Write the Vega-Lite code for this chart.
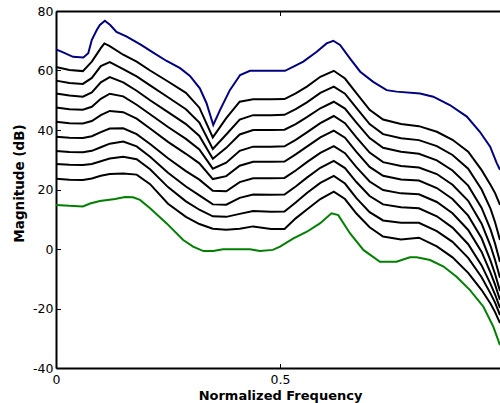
{
"$schema": "https://vega.github.io/schema/vega-lite/v6.json",
"width": 444, "height": 357,
"autosize": {"type": "none"},
"padding": {"left": 56, "top": 11, "right": 0, "bottom": 35},
"background": "white",
"config": {
  "view": {"stroke": null},
  "axis": {"labelFont": "DejaVu Sans", "labelFontSize": 12.5, "labelColor": "black", "titleFont": "DejaVu Sans", "titleFontSize": 13.5, "titleFontWeight": "bold", "titleColor": "black", "domainColor": "black", "domainWidth": 2, "tickColor": "black", "tickWidth": 1, "tickSize": -4.5, "grid": false}
},
"data": {"values": [
{"s":"A","f":0,"m":67.1},{"s":"A","f":0.016,"m":66.1},{"s":"A","f":0.038,"m":64.6},{"s":"A","f":0.061,"m":64.4},{"s":"A","f":0.072,"m":65.8},{"s":"A","f":0.08,"m":70.3},{"s":"A","f":0.091,"m":73.6},{"s":"A","f":0.098,"m":75.3},{"s":"A","f":0.109,"m":76.7},{"s":"A","f":0.121,"m":75.3},{"s":"A","f":0.135,"m":73.0},{"s":"A","f":0.158,"m":71.4},{"s":"A","f":0.19,"m":68.6},{"s":"A","f":0.217,"m":66.0},{"s":"A","f":0.247,"m":63.2},{"s":"A","f":0.277,"m":60.8},{"s":"A","f":0.299,"m":58.2},{"s":"A","f":0.321,"m":54.0},{"s":"A","f":0.336,"m":49.0},{"s":"A","f":0.351,"m":41.7},{"s":"A","f":0.366,"m":46.7},{"s":"A","f":0.388,"m":53.4},{"s":"A","f":0.411,"m":58.5},{"s":"A","f":0.433,"m":59.9},{"s":"A","f":0.511,"m":59.9},{"s":"A","f":0.53,"m":61.3},{"s":"A","f":0.552,"m":63.0},{"s":"A","f":0.582,"m":66.3},{"s":"A","f":0.604,"m":69.1},{"s":"A","f":0.619,"m":70.0},{"s":"A","f":0.634,"m":68.6},{"s":"A","f":0.656,"m":64.1},{"s":"A","f":0.679,"m":59.6},{"s":"A","f":0.708,"m":56.2},{"s":"A","f":0.738,"m":53.4},{"s":"A","f":0.76,"m":52.9},{"s":"A","f":0.8125,"m":52.3},{"s":"A","f":0.842,"m":51.2},{"s":"A","f":0.879,"m":48.4},{"s":"A","f":0.917,"m":44.5},{"s":"A","f":0.946,"m":39.4},{"s":"A","f":0.969,"m":34.4},{"s":"A","f":0.984,"m":28.8},{"s":"A","f":0.991,"m":26.6},

{"s":"B1","f":0,"m":61.2},{"s":"B1","f":0.03,"m":60.2},{"s":"B1","f":0.06,"m":59.8},{"s":"B1","f":0.08,"m":63.0},{"s":"B1","f":0.1,"m":67.5},{"s":"B1","f":0.108,"m":69.1},{"s":"B1","f":0.12,"m":68.2},{"s":"B1","f":0.15,"m":65.3},{"s":"B1","f":0.18,"m":63.0},{"s":"B1","f":0.21,"m":60.0},{"s":"B1","f":0.25,"m":56.3},{"s":"B1","f":0.29,"m":52.5},{"s":"B1","f":0.32,"m":47.5},{"s":"B1","f":0.35,"m":37.5},{"s":"B1","f":0.38,"m":44.0},{"s":"B1","f":0.41,"m":49.5},{"s":"B1","f":0.44,"m":50.3},{"s":"B1","f":0.48,"m":50.3},{"s":"B1","f":0.51,"m":50.4},{"s":"B1","f":0.535,"m":52.3},{"s":"B1","f":0.56,"m":54.6},{"s":"B1","f":0.59,"m":57.9},{"s":"B1","f":0.62,"m":59.9},{"s":"B1","f":0.645,"m":57.3},{"s":"B1","f":0.67,"m":52.5},{"s":"B1","f":0.7,"m":46.8},{"s":"B1","f":0.73,"m":43.5},{"s":"B1","f":0.77,"m":42.0},{"s":"B1","f":0.81,"m":41.3},{"s":"B1","f":0.85,"m":39.4},{"s":"B1","f":0.885,"m":36.7},{"s":"B1","f":0.92,"m":32.7},{"s":"B1","f":0.95,"m":26.5},{"s":"B1","f":0.97,"m":21.5},{"s":"B1","f":0.98,"m":18.8},{"s":"B1","f":0.991,"m":14.8},

{"s":"B2","f":0,"m":56.6},{"s":"B2","f":0.03,"m":55.8},{"s":"B2","f":0.06,"m":55.5},{"s":"B2","f":0.08,"m":57.5},{"s":"B2","f":0.1,"m":61.5},{"s":"B2","f":0.12,"m":62.8},{"s":"B2","f":0.15,"m":60.5},{"s":"B2","f":0.18,"m":58.0},{"s":"B2","f":0.21,"m":55.0},{"s":"B2","f":0.25,"m":51.0},{"s":"B2","f":0.29,"m":47.0},{"s":"B2","f":0.32,"m":42.5},{"s":"B2","f":0.35,"m":33.6},{"s":"B2","f":0.38,"m":38.5},{"s":"B2","f":0.41,"m":43.5},{"s":"B2","f":0.44,"m":45.0},{"s":"B2","f":0.48,"m":45.0},{"s":"B2","f":0.51,"m":45.1},{"s":"B2","f":0.535,"m":47.0},{"s":"B2","f":0.56,"m":49.3},{"s":"B2","f":0.59,"m":52.5},{"s":"B2","f":0.62,"m":54.6},{"s":"B2","f":0.645,"m":52.2},{"s":"B2","f":0.67,"m":47.5},{"s":"B2","f":0.7,"m":42.0},{"s":"B2","f":0.73,"m":38.6},{"s":"B2","f":0.77,"m":37.2},{"s":"B2","f":0.81,"m":36.6},{"s":"B2","f":0.85,"m":34.6},{"s":"B2","f":0.885,"m":31.6},{"s":"B2","f":0.92,"m":27.0},{"s":"B2","f":0.95,"m":20.0},{"s":"B2","f":0.97,"m":13.5},{"s":"B2","f":0.98,"m":9.0},{"s":"B2","f":0.991,"m":3.0},

{"s":"B3","f":0,"m":52.3},{"s":"B3","f":0.03,"m":51.6},{"s":"B3","f":0.06,"m":51.2},{"s":"B3","f":0.08,"m":52.6},{"s":"B3","f":0.1,"m":56.0},{"s":"B3","f":0.12,"m":57.8},{"s":"B3","f":0.15,"m":56.0},{"s":"B3","f":0.18,"m":53.2},{"s":"B3","f":0.21,"m":50.0},{"s":"B3","f":0.25,"m":46.0},{"s":"B3","f":0.29,"m":42.0},{"s":"B3","f":0.32,"m":38.0},{"s":"B3","f":0.35,"m":30.3},{"s":"B3","f":0.38,"m":34.0},{"s":"B3","f":0.41,"m":38.5},{"s":"B3","f":0.44,"m":40.0},{"s":"B3","f":0.48,"m":40.0},{"s":"B3","f":0.51,"m":40.1},{"s":"B3","f":0.535,"m":42.0},{"s":"B3","f":0.56,"m":44.3},{"s":"B3","f":0.59,"m":47.3},{"s":"B3","f":0.62,"m":49.5},{"s":"B3","f":0.645,"m":47.2},{"s":"B3","f":0.67,"m":42.6},{"s":"B3","f":0.7,"m":37.3},{"s":"B3","f":0.73,"m":34.0},{"s":"B3","f":0.77,"m":32.7},{"s":"B3","f":0.81,"m":32.0},{"s":"B3","f":0.85,"m":29.8},{"s":"B3","f":0.885,"m":26.4},{"s":"B3","f":0.92,"m":21.3},{"s":"B3","f":0.95,"m":13.8},{"s":"B3","f":0.97,"m":6.5},{"s":"B3","f":0.98,"m":1.8},{"s":"B3","f":0.991,"m":-4.4},

{"s":"B4","f":0,"m":47.6},{"s":"B4","f":0.03,"m":47.0},{"s":"B4","f":0.06,"m":46.8},{"s":"B4","f":0.08,"m":47.8},{"s":"B4","f":0.1,"m":50.5},{"s":"B4","f":0.12,"m":52.2},{"s":"B4","f":0.15,"m":51.3},{"s":"B4","f":0.18,"m":48.5},{"s":"B4","f":0.21,"m":45.3},{"s":"B4","f":0.25,"m":41.0},{"s":"B4","f":0.29,"m":37.0},{"s":"B4","f":0.32,"m":33.5},{"s":"B4","f":0.35,"m":27.0},{"s":"B4","f":0.38,"m":29.0},{"s":"B4","f":0.41,"m":33.0},{"s":"B4","f":0.44,"m":34.4},{"s":"B4","f":0.48,"m":34.4},{"s":"B4","f":0.51,"m":34.5},{"s":"B4","f":0.535,"m":36.7},{"s":"B4","f":0.56,"m":39.2},{"s":"B4","f":0.59,"m":42.3},{"s":"B4","f":0.62,"m":44.7},{"s":"B4","f":0.645,"m":42.3},{"s":"B4","f":0.67,"m":37.6},{"s":"B4","f":0.7,"m":32.4},{"s":"B4","f":0.73,"m":29.2},{"s":"B4","f":0.77,"m":27.9},{"s":"B4","f":0.81,"m":27.4},{"s":"B4","f":0.85,"m":25.2},{"s":"B4","f":0.885,"m":21.6},{"s":"B4","f":0.92,"m":16.2},{"s":"B4","f":0.95,"m":8.5},{"s":"B4","f":0.97,"m":1.0},{"s":"B4","f":0.98,"m":-3.7},{"s":"B4","f":0.991,"m":-9.7},

{"s":"B5","f":0,"m":42.8},{"s":"B5","f":0.03,"m":42.3},{"s":"B5","f":0.06,"m":42.2},{"s":"B5","f":0.08,"m":43.0},{"s":"B5","f":0.1,"m":45.0},{"s":"B5","f":0.12,"m":46.4},{"s":"B5","f":0.15,"m":46.0},{"s":"B5","f":0.18,"m":43.8},{"s":"B5","f":0.21,"m":40.5},{"s":"B5","f":0.25,"m":36.0},{"s":"B5","f":0.29,"m":32.0},{"s":"B5","f":0.32,"m":28.8},{"s":"B5","f":0.35,"m":23.5},{"s":"B5","f":0.38,"m":24.5},{"s":"B5","f":0.41,"m":28.0},{"s":"B5","f":0.44,"m":29.3},{"s":"B5","f":0.48,"m":29.3},{"s":"B5","f":0.51,"m":29.4},{"s":"B5","f":0.535,"m":31.8},{"s":"B5","f":0.56,"m":34.4},{"s":"B5","f":0.59,"m":37.5},{"s":"B5","f":0.62,"m":39.8},{"s":"B5","f":0.645,"m":37.4},{"s":"B5","f":0.67,"m":32.7},{"s":"B5","f":0.7,"m":27.6},{"s":"B5","f":0.73,"m":24.6},{"s":"B5","f":0.77,"m":23.4},{"s":"B5","f":0.81,"m":23.0},{"s":"B5","f":0.85,"m":20.5},{"s":"B5","f":0.885,"m":16.8},{"s":"B5","f":0.92,"m":11.2},{"s":"B5","f":0.95,"m":3.6},{"s":"B5","f":0.97,"m":-4.0},{"s":"B5","f":0.98,"m":-8.4},{"s":"B5","f":0.991,"m":-14.1},

{"s":"B6","f":0,"m":37.7},{"s":"B6","f":0.03,"m":37.4},{"s":"B6","f":0.06,"m":37.3},{"s":"B6","f":0.08,"m":37.9},{"s":"B6","f":0.1,"m":39.3},{"s":"B6","f":0.12,"m":40.5},{"s":"B6","f":0.15,"m":40.6},{"s":"B6","f":0.18,"m":38.6},{"s":"B6","f":0.21,"m":35.3},{"s":"B6","f":0.25,"m":30.5},{"s":"B6","f":0.29,"m":26.2},{"s":"B6","f":0.32,"m":23.3},{"s":"B6","f":0.35,"m":19.6},{"s":"B6","f":0.38,"m":19.4},{"s":"B6","f":0.41,"m":22.5},{"s":"B6","f":0.44,"m":23.8},{"s":"B6","f":0.48,"m":23.8},{"s":"B6","f":0.51,"m":23.9},{"s":"B6","f":0.535,"m":26.4},{"s":"B6","f":0.56,"m":29.2},{"s":"B6","f":0.59,"m":32.3},{"s":"B6","f":0.62,"m":34.6},{"s":"B6","f":0.645,"m":32.2},{"s":"B6","f":0.67,"m":27.6},{"s":"B6","f":0.7,"m":22.7},{"s":"B6","f":0.73,"m":19.8},{"s":"B6","f":0.77,"m":18.7},{"s":"B6","f":0.81,"m":18.4},{"s":"B6","f":0.85,"m":15.8},{"s":"B6","f":0.885,"m":12.0},{"s":"B6","f":0.92,"m":6.4},{"s":"B6","f":0.95,"m":-1.0},{"s":"B6","f":0.97,"m":-8.0},{"s":"B6","f":0.98,"m":-12.0},{"s":"B6","f":0.991,"m":-17.1},

{"s":"B7","f":0,"m":32.9},{"s":"B7","f":0.03,"m":32.6},{"s":"B7","f":0.06,"m":32.5},{"s":"B7","f":0.08,"m":33.0},{"s":"B7","f":0.1,"m":34.2},{"s":"B7","f":0.12,"m":35.4},{"s":"B7","f":0.15,"m":36.1},{"s":"B7","f":0.18,"m":34.5},{"s":"B7","f":0.21,"m":31.0},{"s":"B7","f":0.25,"m":25.6},{"s":"B7","f":0.29,"m":21.0},{"s":"B7","f":0.32,"m":18.0},{"s":"B7","f":0.35,"m":15.0},{"s":"B7","f":0.38,"m":14.9},{"s":"B7","f":0.41,"m":17.2},{"s":"B7","f":0.44,"m":18.3},{"s":"B7","f":0.48,"m":18.2},{"s":"B7","f":0.51,"m":18.3},{"s":"B7","f":0.535,"m":21.0},{"s":"B7","f":0.56,"m":24.0},{"s":"B7","f":0.59,"m":27.3},{"s":"B7","f":0.62,"m":29.6},{"s":"B7","f":0.645,"m":27.2},{"s":"B7","f":0.67,"m":22.6},{"s":"B7","f":0.7,"m":17.8},{"s":"B7","f":0.73,"m":15.0},{"s":"B7","f":0.77,"m":14.0},{"s":"B7","f":0.81,"m":13.7},{"s":"B7","f":0.85,"m":11.0},{"s":"B7","f":0.885,"m":7.2},{"s":"B7","f":0.92,"m":1.6},{"s":"B7","f":0.95,"m":-5.5},{"s":"B7","f":0.97,"m":-11.8},{"s":"B7","f":0.98,"m":-15.3},{"s":"B7","f":0.991,"m":-19.8},

{"s":"B8","f":0,"m":28.6},{"s":"B8","f":0.03,"m":28.3},{"s":"B8","f":0.06,"m":28.2},{"s":"B8","f":0.08,"m":28.6},{"s":"B8","f":0.1,"m":29.5},{"s":"B8","f":0.12,"m":30.4},{"s":"B8","f":0.15,"m":31.0},{"s":"B8","f":0.18,"m":30.2},{"s":"B8","f":0.21,"m":26.8},{"s":"B8","f":0.25,"m":20.8},{"s":"B8","f":0.29,"m":16.0},{"s":"B8","f":0.32,"m":13.2},{"s":"B8","f":0.35,"m":11.0},{"s":"B8","f":0.38,"m":10.8},{"s":"B8","f":0.41,"m":11.8},{"s":"B8","f":0.44,"m":12.8},{"s":"B8","f":0.48,"m":12.5},{"s":"B8","f":0.51,"m":12.6},{"s":"B8","f":0.535,"m":15.6},{"s":"B8","f":0.56,"m":18.8},{"s":"B8","f":0.59,"m":22.2},{"s":"B8","f":0.62,"m":24.6},{"s":"B8","f":0.645,"m":22.0},{"s":"B8","f":0.67,"m":17.2},{"s":"B8","f":0.7,"m":12.4},{"s":"B8","f":0.73,"m":9.6},{"s":"B8","f":0.77,"m":8.8},{"s":"B8","f":0.81,"m":8.8},{"s":"B8","f":0.85,"m":6.0},{"s":"B8","f":0.885,"m":2.4},{"s":"B8","f":0.92,"m":-3.0},{"s":"B8","f":0.95,"m":-9.5},{"s":"B8","f":0.97,"m":-15.0},{"s":"B8","f":0.98,"m":-18.0},{"s":"B8","f":0.991,"m":-22.2},

{"s":"B9","f":0,"m":23.6},{"s":"B9","f":0.03,"m":23.3},{"s":"B9","f":0.06,"m":23.2},{"s":"B9","f":0.08,"m":23.7},{"s":"B9","f":0.1,"m":24.6},{"s":"B9","f":0.12,"m":25.2},{"s":"B9","f":0.15,"m":25.4},{"s":"B9","f":0.18,"m":25.0},{"s":"B9","f":0.21,"m":21.8},{"s":"B9","f":0.25,"m":15.2},{"s":"B9","f":0.29,"m":10.8},{"s":"B9","f":0.32,"m":8.4},{"s":"B9","f":0.35,"m":6.8},{"s":"B9","f":0.38,"m":6.5},{"s":"B9","f":0.41,"m":6.8},{"s":"B9","f":0.44,"m":7.6},{"s":"B9","f":0.48,"m":6.7},{"s":"B9","f":0.51,"m":6.7},{"s":"B9","f":0.535,"m":10.3},{"s":"B9","f":0.56,"m":13.3},{"s":"B9","f":0.59,"m":16.8},{"s":"B9","f":0.62,"m":19.3},{"s":"B9","f":0.645,"m":16.8},{"s":"B9","f":0.67,"m":12.0},{"s":"B9","f":0.7,"m":7.3},{"s":"B9","f":0.73,"m":4.2},{"s":"B9","f":0.77,"m":3.2},{"s":"B9","f":0.81,"m":3.8},{"s":"B9","f":0.85,"m":0.9},{"s":"B9","f":0.885,"m":-2.8},{"s":"B9","f":0.92,"m":-8.0},{"s":"B9","f":0.95,"m":-13.8},{"s":"B9","f":0.97,"m":-18.4},{"s":"B9","f":0.98,"m":-21.2},{"s":"B9","f":0.991,"m":-24.9},

{"s":"C","f":0,"m":14.8},{"s":"C","f":0.03,"m":14.5},{"s":"C","f":0.06,"m":14.3},{"s":"C","f":0.076,"m":15.3},{"s":"C","f":0.098,"m":16.1},{"s":"C","f":0.132,"m":16.8},{"s":"C","f":0.154,"m":17.5},{"s":"C","f":0.172,"m":17.4},{"s":"C","f":0.1875,"m":16.5},{"s":"C","f":0.21,"m":13.7},{"s":"C","f":0.247,"m":8.6},{"s":"C","f":0.284,"m":3.0},{"s":"C","f":0.306,"m":0.8},{"s":"C","f":0.329,"m":-0.7},{"s":"C","f":0.351,"m":-0.7},{"s":"C","f":0.373,"m":-0.1},{"s":"C","f":0.433,"m":-0.1},{"s":"C","f":0.455,"m":-0.7},{"s":"C","f":0.484,"m":-0.3},{"s":"C","f":0.5,"m":0.8},{"s":"C","f":0.53,"m":3.6},{"s":"C","f":0.56,"m":5.8},{"s":"C","f":0.589,"m":8.6},{"s":"C","f":0.615,"m":12.0},{"s":"C","f":0.63,"m":11.4},{"s":"C","f":0.656,"m":5.3},{"s":"C","f":0.686,"m":-0.3},{"s":"C","f":0.723,"m":-4.3},{"s":"C","f":0.76,"m":-4.3},{"s":"C","f":0.79,"m":-2.8},{"s":"C","f":0.805,"m":-2.8},{"s":"C","f":0.835,"m":-3.7},{"s":"C","f":0.865,"m":-5.9},{"s":"C","f":0.894,"m":-9.3},{"s":"C","f":0.924,"m":-13.8},{"s":"C","f":0.954,"m":-19.4},{"s":"C","f":0.976,"m":-26.1},{"s":"C","f":0.991,"m":-32.3}
]},
"layer": [
  {
    "transform": [{"filter": "datum.s != 'C'"}],
    "mark": {"type": "line", "strokeWidth": 2},
    "encoding": {
      "x": {"field": "f", "type": "quantitative", "scale": {"domain": [0, 0.991], "nice": false, "zero": false},
            "axis": {"orient": "bottom", "values": [0, 0.5], "format": "~g", "labelFlush": false, "labelPadding": 9.5, "title": "Normalized Frequency", "titleFontSize": 13, "titleX": 224, "titleY": 31, "titleBaseline": "alphabetic", "titleAlign": "center"}},
      "y": {"field": "m", "type": "quantitative", "scale": {"domain": [-40, 80], "nice": false, "zero": false},
            "axis": {"values": [-40, -20, 0, 20, 40, 60, 80], "labelPadding": 7.5, "labelExpr": "replace(datum.label, '−', '-')", "title": "Magnitude (dB)", "titleX": -37, "titleY": 172, "titleAngle": 270, "titleAlign": "center", "titleBaseline": "middle"}},
      "color": {"field": "s", "type": "nominal", "legend": null,
                "scale": {"domain": ["A","B1","B2","B3","B4","B5","B6","B7","B8","B9","C"], "range": ["#000080","#000000","#000000","#000000","#000000","#000000","#000000","#000000","#000000","#000000","#007f00"]}}
    }
  },
  {
    "transform": [{"filter": "datum.s == 'C'"}],
    "mark": {"type": "line", "strokeWidth": 2},
    "encoding": {
      "x": {"field": "f", "type": "quantitative", "scale": {"domain": [0, 0.991], "nice": false, "zero": false},
            "axis": {"orient": "top", "values": [0, 0.5], "labels": false, "title": null}},
      "y": {"field": "m", "type": "quantitative", "scale": {"domain": [-40, 80], "nice": false, "zero": false},
            "axis": {"values": [-40, -20, 0, 20, 40, 60, 80], "labelPadding": 7.5, "labelExpr": "replace(datum.label, '−', '-')", "title": "Magnitude (dB)", "titleX": -37, "titleY": 172, "titleAngle": 270, "titleAlign": "center", "titleBaseline": "middle"}},
      "color": {"field": "s", "type": "nominal", "legend": null,
                "scale": {"domain": ["A","B1","B2","B3","B4","B5","B6","B7","B8","B9","C"], "range": ["#000080","#000000","#000000","#000000","#000000","#000000","#000000","#000000","#000000","#000000","#007f00"]}}
    }
  }
],
"resolve": {"axis": {"x": "independent"}}
}
